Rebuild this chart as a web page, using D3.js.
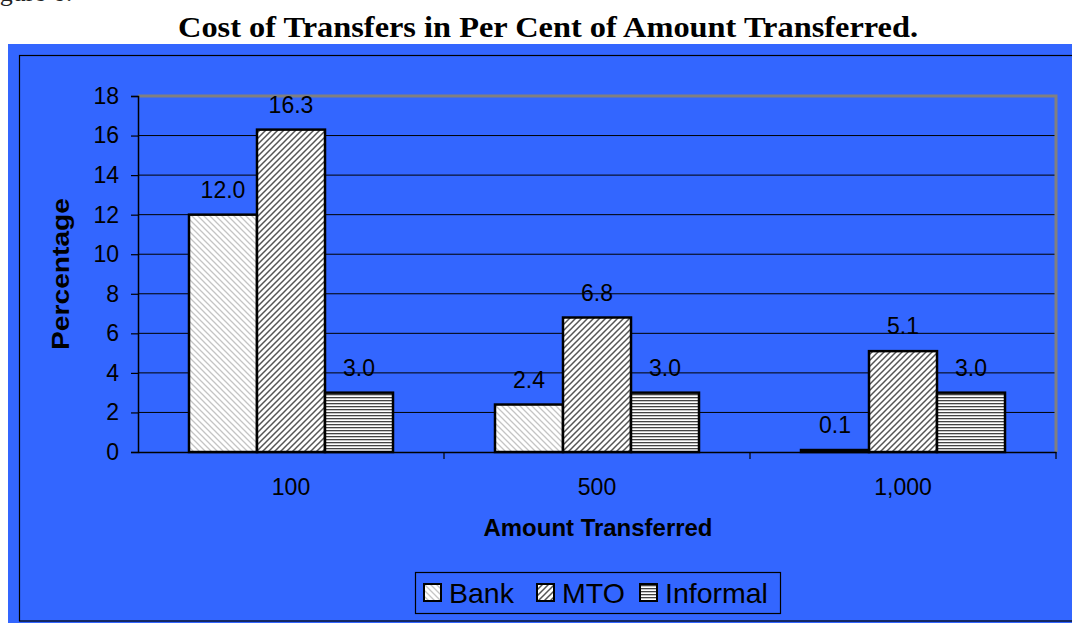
<!DOCTYPE html>
<html>
<head>
    <script src="https://cdn.jsdelivr.net/npm/d3@7/dist/d3.min.js" charset="UTF-8"></script>
    <style>
        body { margin: 0; background: #fff; }
        svg { display: block; }
    </style>
</head>
<body>
<svg width="1072" height="623"></svg>
<script type="text/javascript">
// chart data
var categories = ['100', '500', '1,000'];
var seriesNames = ['Bank', 'MTO', 'Informal'];
var bank = [12.0, 2.4, 0.1];
var mto = [16.3, 6.8, 5.1];
var informal = [3.0, 3.0, 3.0];
var yTicks = [0, 2, 4, 6, 8, 10, 12, 14, 16, 18];

var allSeries = [bank, mto, informal];

var svg = d3.select('svg');
var sans = 'Liberation Sans, Arial, sans-serif';
var serif = 'Liberation Serif, Times New Roman, serif';

// hatch patterns like the old Excel fills
var defs = svg.append('defs');
function hatch(id, color, width, draw) {
    var p = defs.append('pattern')
        .attr('id', id)
        .attr('patternUnits', 'userSpaceOnUse')
        .attr('width', 6).attr('height', 6);
    p.append('rect').attr('width', 6).attr('height', 6).attr('fill', '#fff');
    p.append('path').attr('d', draw)
        .attr('stroke', color).attr('stroke-width', width).attr('fill', 'none');
}
hatch('pBank', '#c4c4c4', 1.3, 'M-1,-1 L7,7 M-4,2 L1,7 M2,-4 L7,1');
hatch('pMTO', '#555', 1.5, 'M-1,7 L7,-1 M-4,4 L1,-1 M5,7 L7,5');
defs.append('pattern')
    .attr('id', 'pInf')
    .attr('patternUnits', 'userSpaceOnUse')
    .attr('width', 6).attr('height', 3)
    .call(function(p) {
        p.append('rect').attr('width', 6).attr('height', 3).attr('fill', '#fff');
        p.append('rect').attr('y', 1).attr('width', 6).attr('height', 1.3).attr('fill', '#444');
    });
var fills = ['url(#pBank)', 'url(#pMTO)', 'url(#pInf)'];

// page bits outside the chart (figure caption cut off at the top)
svg.append('text')
    .attr('x', -22).attr('y', 1)
    .attr('font-family', serif)
    .attr('font-size', 26)
    .attr('fill', '#222')
    .text('Figure 6:');

svg.append('text')
    .attr('x', 548).attr('y', 37)
    .attr('text-anchor', 'middle')
    .attr('font-family', serif)
    .attr('font-weight', 'bold')
    .attr('font-size', 30)
    .attr('textLength', 740).attr('lengthAdjust', 'spacingAndGlyphs')
    .text('Cost of Transfers in Per Cent of Amount Transferred.');

// blue chart background
svg.append('rect')
    .attr('x', 8).attr('y', 44)
    .attr('width', 1080).attr('height', 600)
    .attr('fill', '#3366ff');
svg.append('rect')
    .attr('x', 19.5).attr('y', 55.5)
    .attr('width', 1080).attr('height', 565.5)
    .attr('fill', 'none')
    .attr('stroke', '#000').attr('stroke-width', 1.2);

var pLeft = 138, pRight = 1056, pTop = 96, pBottom = 452;

var x = d3.scaleBand().domain(categories).range([pLeft, pRight]);
var xs = d3.scaleBand().domain(seriesNames).range([0, x.bandwidth()]).paddingOuter(0.75).paddingInner(0);
var y = d3.scaleLinear().domain([0, 18]).range([pBottom, pTop]);

// gridlines
svg.append('g')
    .selectAll('line')
    .data(yTicks.slice(1, -1))
    .enter().append('line')
    .attr('x1', pLeft).attr('x2', pRight)
    .attr('y1', function(d) { return y(d); })
    .attr('y2', function(d) { return y(d); })
    .attr('stroke', '#000').attr('stroke-width', 1);

// grey frame top + right
svg.append('path')
    .attr('d', 'M' + pLeft + ',' + pTop + 'H' + pRight + 'V' + pBottom)
    .attr('fill', 'none')
    .attr('stroke', '#808080').attr('stroke-width', 3);

// bars
var groups = svg.append('g').selectAll('g')
    .data(seriesNames)
    .enter().append('g');
groups.each(function(name, si) {
    var g = d3.select(this);
    var vals = allSeries[si];
    g.selectAll('rect')
        .data(vals)
        .enter().append('rect')
        .attr('x', function(d, i) { return x(categories[i]) + xs(name); })
        .attr('y', function(d) { return y(d); })
        .attr('width', xs.bandwidth())
        .attr('height', function(d) { return y(0) - y(d); })
        .attr('fill', fills[si])
        .attr('stroke', '#000').attr('stroke-width', 2.5);
    g.selectAll('text')
        .data(vals)
        .enter().append('text')
        .attr('x', function(d, i) { return x(categories[i]) + xs(name) + xs.bandwidth() / 2; })
        .attr('y', function(d) { return y(d) - 17; })
        .attr('text-anchor', 'middle')
        .attr('font-family', sans)
        .attr('font-size', 23)
        .text(function(d) { return d.toFixed(1); });
});

// axes
var yAxis = d3.axisLeft(y).tickValues(yTicks).tickSize(7).tickPadding(12);
var ga = svg.append('g').attr('transform', 'translate(' + pLeft + ',0)').call(yAxis);
ga.select('.domain').attr('stroke', '#000').attr('stroke-width', 1.5);
ga.selectAll('line').attr('stroke', '#000').attr('stroke-width', 1.2);
ga.selectAll('text')
    .attr('font-family', sans)
    .attr('font-size', 23).attr('fill', '#000');

var xAxis = d3.axisBottom(x).tickSize(0).tickPadding(27);
var gx = svg.append('g').attr('transform', 'translate(0,' + pBottom + ')').call(xAxis);
gx.select('.domain').attr('stroke', '#000').attr('stroke-width', 1.5);
gx.selectAll('text')
    .attr('font-family', sans)
    .attr('font-size', 23).attr('fill', '#000');
// category separator ticks
gx.append('g').selectAll('line')
    .data(categories)
    .enter().append('line')
    .attr('x1', function(d) { return x(d) + x.bandwidth(); })
    .attr('x2', function(d) { return x(d) + x.bandwidth(); })
    .attr('y1', 0).attr('y2', 7)
    .attr('stroke', '#000').attr('stroke-width', 1.2);

// axis titles
svg.append('text')
    .attr('x', 598).attr('y', 536)
    .attr('text-anchor', 'middle')
    .attr('font-family', sans)
    .attr('font-weight', 'bold').attr('font-size', 23.5)
    .attr('textLength', 229).attr('lengthAdjust', 'spacingAndGlyphs')
    .text('Amount Transferred');
svg.append('text')
    .attr('transform', 'translate(69,274) rotate(-90)')
    .attr('text-anchor', 'middle')
    .attr('font-family', sans)
    .attr('font-weight', 'bold').attr('font-size', 23)
    .attr('textLength', 152).attr('lengthAdjust', 'spacingAndGlyphs')
    .text('Percentage');

// legend
var legend = svg.append('g');
legend.append('rect')
    .attr('x', 415.5).attr('y', 572.5)
    .attr('width', 365).attr('height', 41)
    .attr('fill', 'none').attr('stroke', '#000').attr('stroke-width', 1.2);
var legX = [424, 537, 640];
var items = legend.selectAll('g.item')
    .data(seriesNames)
    .enter().append('g').attr('class', 'item')
    .attr('transform', function(d, i) { return 'translate(' + legX[i] + ',584)'; });
items.append('rect')
    .attr('width', 17).attr('height', 17)
    .attr('fill', function(d, i) { return fills[i]; })
    .attr('stroke', '#000').attr('stroke-width', 2);
items.append('text')
    .attr('x', 25).attr('y', 19)
    .attr('font-family', sans)
    .attr('font-size', 28.5)
    .text(function(d) { return d; });
</script>
</body>
</html>
